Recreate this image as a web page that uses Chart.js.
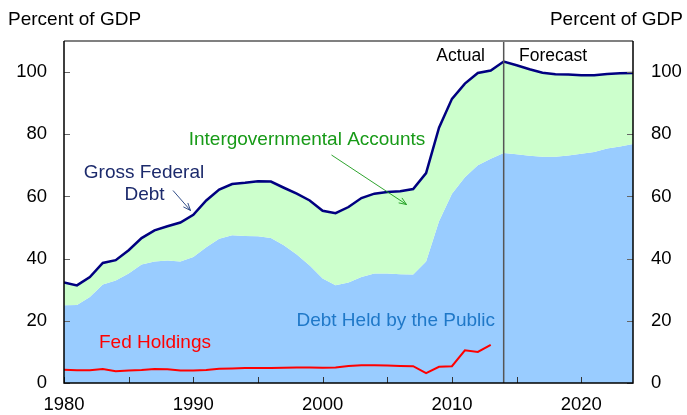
<!DOCTYPE html>
<html><head><meta charset="utf-8">
<script src="https://cdn.jsdelivr.net/npm/chart.js@4/dist/chart.umd.min.js"></script>
<style>html,body{margin:0;padding:0;background:#fff}#wrap{width:687px;height:415px}</style>
</head><body><div id="wrap"><canvas id="c" width="687" height="415"></canvas></div>
<script>
const years = [1980,1981,1982,1983,1984,1985,1986,1987,1988,1989,1990,1991,1992,1993,1994,1995,1996,1997,1998,1999,2000,2001,2002,2003,2004,2005,2006,2007,2008,2009,2010,2011,2012,2013,2014,2015,2016,2017,2018,2019,2020,2021,2022,2023,2024];
const grossDebt = [32.3,31.4,34.1,38.6,39.5,42.7,46.6,49.1,50.4,51.6,54.1,58.7,62.2,64.0,64.4,64.9,64.8,62.8,60.9,58.7,55.4,54.6,56.6,59.5,60.9,61.4,61.7,62.4,67.5,82.1,91.4,96.3,99.7,100.5,103.4,102.2,100.9,99.8,99.3,99.2,99.0,99.0,99.4,99.6,99.7];
const publicDebt = [25.0,25.1,27.7,31.7,33.0,35.2,38.1,39.1,39.4,39.1,40.5,43.7,46.4,47.5,47.3,47.2,46.6,44.3,41.3,37.8,33.6,31.4,32.3,34.1,35.2,35.2,35.0,34.9,39.1,52.0,60.9,66.2,70.0,72.1,74.0,73.6,73.1,72.8,72.8,73.2,73.7,74.3,75.4,76.1,76.9];
const fedHoldings = [4.3,4.1,4.1,4.5,3.8,4.0,4.2,4.5,4.4,4.0,4.0,4.2,4.6,4.7,4.8,4.8,4.8,4.9,5.0,5.0,4.9,5.0,5.5,5.7,5.7,5.6,5.5,5.4,3.2,5.2,5.4,10.5,10.0,12.3];
const yTicks = [0,20,40,60,80,100];
const xTickYears = [1980,1985,1990,1995,2000,2005,2010,2015,2020];
const xLabelYears = [1980,1990,2000,2010,2020];
const forecastStart = 2014;

const pts = (arr) => arr.map((v,i)=>({x:years[i], y:v}));
const FONT = '"Liberation Sans", Arial, sans-serif';

const overlay = {
  id:'overlay',
  afterDraw(chart){
    const ctx = chart.ctx, a = chart.chartArea;
    const x = chart.scales.x, y = chart.scales.y;
    ctx.save();
    const fx = x.getPixelForValue(forecastStart);
    ctx.strokeStyle = '#555'; ctx.lineWidth = 1.5;
    ctx.beginPath(); ctx.moveTo(fx, a.top); ctx.lineTo(fx, a.bottom); ctx.stroke();
    ctx.strokeStyle = '#666'; ctx.lineWidth = 1;
    yTicks.forEach(v=>{
      const py = Math.round(y.getPixelForValue(v))+0.5;
      ctx.beginPath(); ctx.moveTo(a.left, py); ctx.lineTo(a.left+6, py); ctx.stroke();
      ctx.beginPath(); ctx.moveTo(a.right, py); ctx.lineTo(a.right-6, py); ctx.stroke();
    });
    ctx.strokeStyle = '#333';
    xTickYears.forEach(v=>{
      const px = Math.round(x.getPixelForValue(v))+0.5;
      ctx.beginPath(); ctx.moveTo(px, a.bottom); ctx.lineTo(px, a.bottom-6); ctx.stroke();
    });
    ctx.strokeStyle = '#808080'; ctx.lineWidth = 2;
    ctx.beginPath(); ctx.moveTo(a.left, a.top); ctx.lineTo(a.right, a.top); ctx.stroke();
    ctx.strokeStyle = '#000'; ctx.lineWidth = 1.5;
    ctx.beginPath(); ctx.moveTo(a.left, a.top); ctx.lineTo(a.left, a.bottom); ctx.lineTo(a.right, a.bottom); ctx.lineTo(a.right, a.top); ctx.stroke();
    ctx.textBaseline = 'middle';
    const txt = (s, px, py, color, size, align) => {
      ctx.font = size + 'px ' + FONT; ctx.fillStyle = color; ctx.textAlign = align; ctx.fillText(s, px, py);
    };
    txt('Percent of GDP', 8, 20, '#000', 19, 'left');
    txt('Percent of GDP', 683, 20, '#000', 19, 'right');
    txt('Actual', 485, 56, '#000', 17.5, 'right');
    txt('Forecast', 519, 56, '#000', 17.5, 'left');
    txt('Gross Federal', 144, 173, '#1c2a6c', 19, 'center');
    txt('Debt', 144.5, 195, '#1c2a6c', 19, 'center');
    txt('Intergovernmental Accounts', 307, 140, '#179a17', 19, 'center');
    txt('Debt Held by the Public', 495, 321, '#1f78c8', 19, 'right');
    txt('Fed Holdings', 99, 343, '#ff0000', 19, 'left');
    const arrow = (x1,y1,x2,y2,color) => {
      ctx.strokeStyle = color; ctx.lineWidth = 0.9;
      ctx.beginPath(); ctx.moveTo(x1,y1); ctx.lineTo(x2,y2); ctx.stroke();
      const ang = Math.atan2(y2-y1, x2-x1), L = 8, w = 0.38;
      ctx.beginPath();
      ctx.moveTo(x2 - L*Math.cos(ang-w), y2 - L*Math.sin(ang-w));
      ctx.lineTo(x2,y2);
      ctx.lineTo(x2 - L*Math.cos(ang+w), y2 - L*Math.sin(ang+w));
      ctx.stroke();
    };
    arrow(173,190.5,190.5,210.5,'#1c3a7c');
    arrow(331.5,155,406.5,204.5,'#179a17');
    ctx.restore();
  }
};

const yTickList = yTicks.map(v=>({value:v}));
new Chart(document.getElementById('c'), {
  type:'line',
  data:{ datasets:[
    { label:'Fed Holdings', data:pts(fedHoldings), borderColor:'#ff0000', borderWidth:2, pointRadius:0, fill:false, tension:0, order:0 },
    { label:'Gross Federal Debt', data:pts(grossDebt), borderColor:'#000080', borderWidth:2.5, backgroundColor:'#ccffcc', pointRadius:0, fill:2, tension:0, order:1 },
    { label:'Debt Held by the Public', data:pts(publicDebt), borderWidth:0, borderColor:'rgba(0,0,0,0)', backgroundColor:'#99ccff', pointRadius:0, fill:'origin', tension:0, order:2 }
  ]},
  options:{
    responsive:false, animation:false, devicePixelRatio:1,
    layout:{ padding:{ top:41, left:0, right:0, bottom:0 } },
    plugins:{ legend:{display:false}, tooltip:{enabled:false} },
    scales:{
      x:{ type:'linear', min:1980, max:2024,
        afterBuildTicks(s){ s.ticks = xLabelYears.map(v=>({value:v})); },
        afterFit(s){ s.height = 32; },
        grid:{display:false, drawTicks:false}, border:{display:false},
        ticks:{ color:'#000', font:{family:FONT, size:18.5}, padding:11, maxRotation:0, autoSkip:false, callback:(v)=>String(v) } },
      y:{ position:'left', min:0, max:110,
        afterBuildTicks(s){ s.ticks = yTickList.map(t=>({value:t.value})); },
        afterFit(s){ s.width = 64; },
        grid:{display:false, drawTicks:false}, border:{display:false},
        ticks:{ color:'#000', font:{family:FONT, size:18.5}, padding:17, callback:(v)=>String(v) } },
      y2:{ position:'right', min:0, max:110,
        afterBuildTicks(s){ s.ticks = yTickList.map(t=>({value:t.value})); },
        afterFit(s){ s.width = 54; },
        grid:{display:false, drawTicks:false}, border:{display:false},
        ticks:{ color:'#000', font:{family:FONT, size:18.5}, padding:18, callback:(v)=>String(v) } }
    }
  },
  plugins:[overlay]
});
</script></body></html>
